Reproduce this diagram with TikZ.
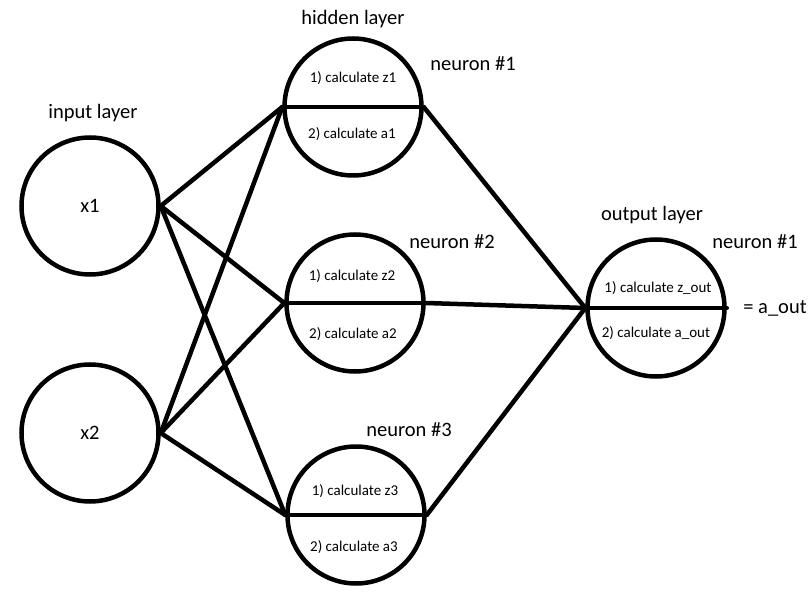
\documentclass[tikz,border=0pt]{standalone}
\usepackage{fontspec}
\setmainfont{Carlito}
\usepackage{tikz}
\usetikzlibrary{positioning}

\begin{document}
\begin{tikzpicture}[x=1pt, y=-1pt,
    neuron/.style={draw, circle, line width=4.5pt, minimum size=137pt, inner sep=0pt},
    wire/.style={line width=4.5pt, line cap=round},
    lbl/.style={font=\fontsize{20.5}{22}\selectfont},
    calcnote/.style={font=\fontsize{15}{16}\selectfont}]
    \useasboundingbox (0,0) rectangle (812,604);

    % Input layer
    \node[lbl] (inlbl) at (93,113) {input layer};
    \node[neuron, lbl] (x1) at (90,206) {x1};
    \node[neuron, lbl] (x2) at (90,433) {x2};

    % Hidden layer
    \node[lbl] (hidlbl) at (353,19) {hidden layer};
    \node[neuron] (h1) at (353,107) {};
    \node[neuron] (h2) at (355,303) {};
    \node[neuron] (h3) at (356,515) {};
    \node[lbl] (n1) at (473,64) {neuron \#1};
    \node[lbl] (n2) at (452,242) {neuron \#2};
    \node[lbl] (n3) at (409,430) {neuron \#3};
    \foreach \h in {h1,h2,h3}
        \draw[wire] (\h.west) -- (\h.east);
    \node[calcnote] (h1z) at (353,78) {1) calculate z1};
    \node[calcnote] (h1a) at (352,134) {2) calculate a1};
    \node[calcnote] (h2z) at (352,276) {1) calculate z2};
    \node[calcnote] (h2a) at (353,334) {2) calculate a2};
    \node[calcnote] (h3z) at (355,491) {1) calculate z3};
    \node[calcnote] (h3a) at (354,547) {2) calculate a3};

    % Output layer
    \node[lbl] (outlbl) at (652,215) {output layer};
    \node[neuron] (o1) at (656,308) {};
    \node[lbl] (on1) at (755,242) {neuron \#1};
    \draw[wire] (o1.west) -- (o1.east);
    \node[calcnote] (oz) at (658,288) {1) calculate z\_out};
    \node[calcnote] (oa) at (656,333) {2) calculate a\_out};
    \node[lbl] (aout) at (775,308) {= a\_out};

    % Connections
    \foreach \x in {x1,x2}
        \foreach \h in {h1,h2,h3}
            \draw[wire] (\x.east) -- (\h.west);
    \foreach \h in {h1,h2,h3}
        \draw[wire] (\h.east) -- (o1.west);
\end{tikzpicture}
\end{document}
